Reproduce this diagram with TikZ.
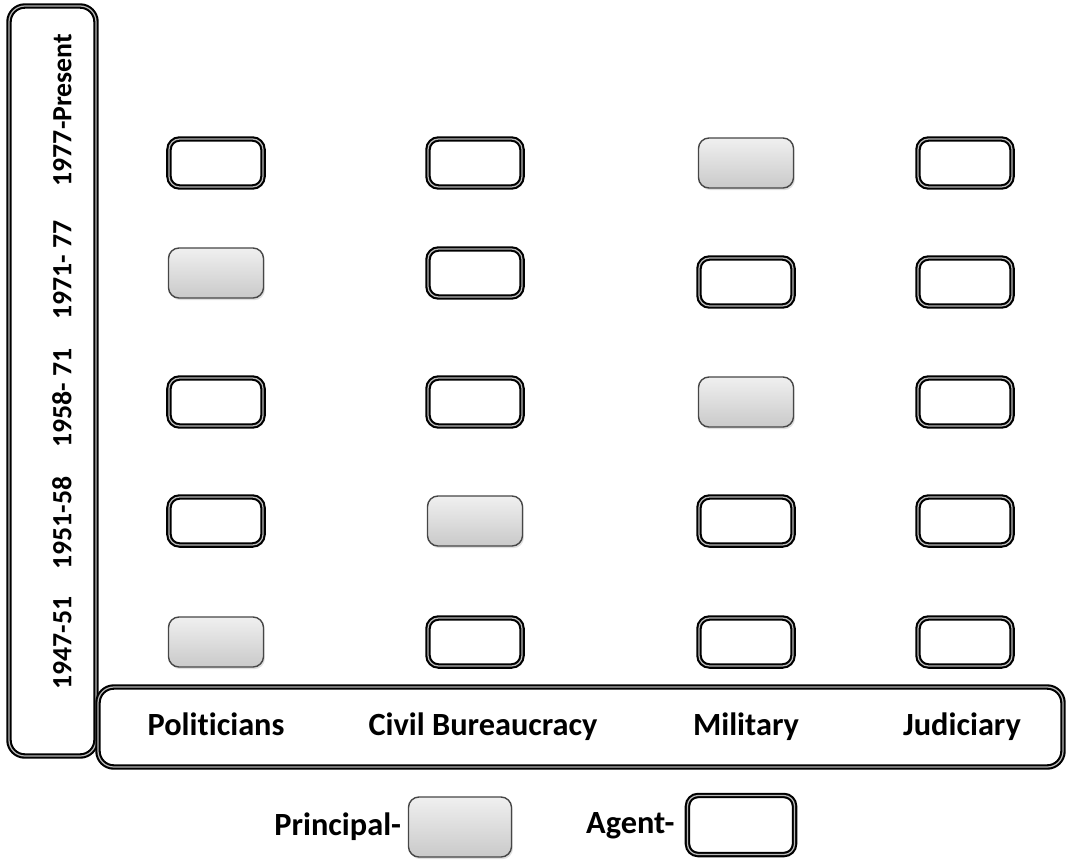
\documentclass[tikz,border=0pt]{standalone}
\usepackage{fontspec}
\setmainfont{Carlito}[RawFeature=-liga]
\usetikzlibrary{shadows}
\begin{document}
\begin{tikzpicture}[
  x=0.01cm, y=-0.01cm,
  pabox/.style = {draw=black, line width=0.6pt, double=gray!55, double distance=0.35pt,
    rounded corners=3pt, fill=white, minimum width=0.94cm, minimum height=0.48cm},
  prbox/.style = {draw=gray!55!black, thin, rounded corners=3pt,
    top color=gray!12, bottom color=gray!42,
    drop shadow={opacity=0.25, shadow xshift=0.4pt, shadow yshift=-0.6pt},
    minimum width=0.95cm, minimum height=0.5cm},
  pabar/.style = {draw=black, line width=0.6pt, double=gray!55, double distance=0.35pt,
    rounded corners=4.5pt, fill=white},
  palbl/.style = {font=\bfseries\fontsize{9.2}{11}\selectfont,
    text height=1.45ex, text depth=0.45ex},
  payr/.style = {font=\bfseries\fontsize{7.9}{9}\selectfont, rotate=90,
    text height=1.45ex, text depth=0.45ex}
]
  \useasboundingbox (0,0) rectangle (1066,860);
  % period bar and actor bar
  \draw[pabar] (9,6) rectangle (96,756);
  \draw[pabar] (98,687) rectangle (1063,767);
  % periods
  \node[payr] (y77) at (63,110) {1977-Present};
  \node[payr] (y71) at (63,270) {1971- 77};
  \node[payr] (y58) at (63,398) {1958- 71};
  \node[payr] (y51) at (63,523) {1951-58};
  \node[payr] (y47) at (63,643) {1947-51};
  % actors
  \node[palbl] (pol) at (216,727) {Politicians};
  \node[palbl] (civ) at (483,727) {Civil Bureaucracy};
  \node[palbl] (mil) at (746,727) {Military};
  \node[palbl] (jud) at (962,727) {Judiciary};
  % 1977-Present
  \node[pabox] (pol77) at (216,163) {};
  \node[pabox] (civ77) at (475,163) {};
  \node[prbox] (mil77) at (746,163) {};
  \node[pabox] (jud77) at (965,163) {};
  % 1971-77
  \node[prbox] (pol71) at (216,273) {};
  \node[pabox] (civ71) at (475,273) {};
  \node[pabox] (mil71) at (746,282) {};
  \node[pabox] (jud71) at (965,282) {};
  % 1958-71
  \node[pabox] (pol58) at (216,402) {};
  \node[pabox] (civ58) at (475,402) {};
  \node[prbox] (mil58) at (746,402) {};
  \node[pabox] (jud58) at (965,402) {};
  % 1951-58
  \node[pabox] (pol51) at (216,521) {};
  \node[prbox] (civ51) at (475,521) {};
  \node[pabox] (mil51) at (746,521) {};
  \node[pabox] (jud51) at (965,521) {};
  % 1947-51
  \node[prbox] (pol47) at (216,642) {};
  \node[pabox] (civ47) at (475,642) {};
  \node[pabox] (mil47) at (746,642) {};
  \node[pabox] (jud47) at (965,642) {};
  % legend
  \node[prbox, minimum width=1.03cm, minimum height=0.6cm] (prkey) at (460,827) {};
  \node[palbl, anchor=east, inner sep=0pt] (prtxt) at ([xshift=-1.7pt]prkey.west) {Principal-};
  \node[pabox, minimum width=1.07cm, minimum height=0.59cm] (pakey) at (741,825) {};
  \node[palbl, anchor=east, inner sep=0pt] (patxt) at ([xshift=-3.2pt]pakey.west) {Agent-};
\end{tikzpicture}
\end{document}
